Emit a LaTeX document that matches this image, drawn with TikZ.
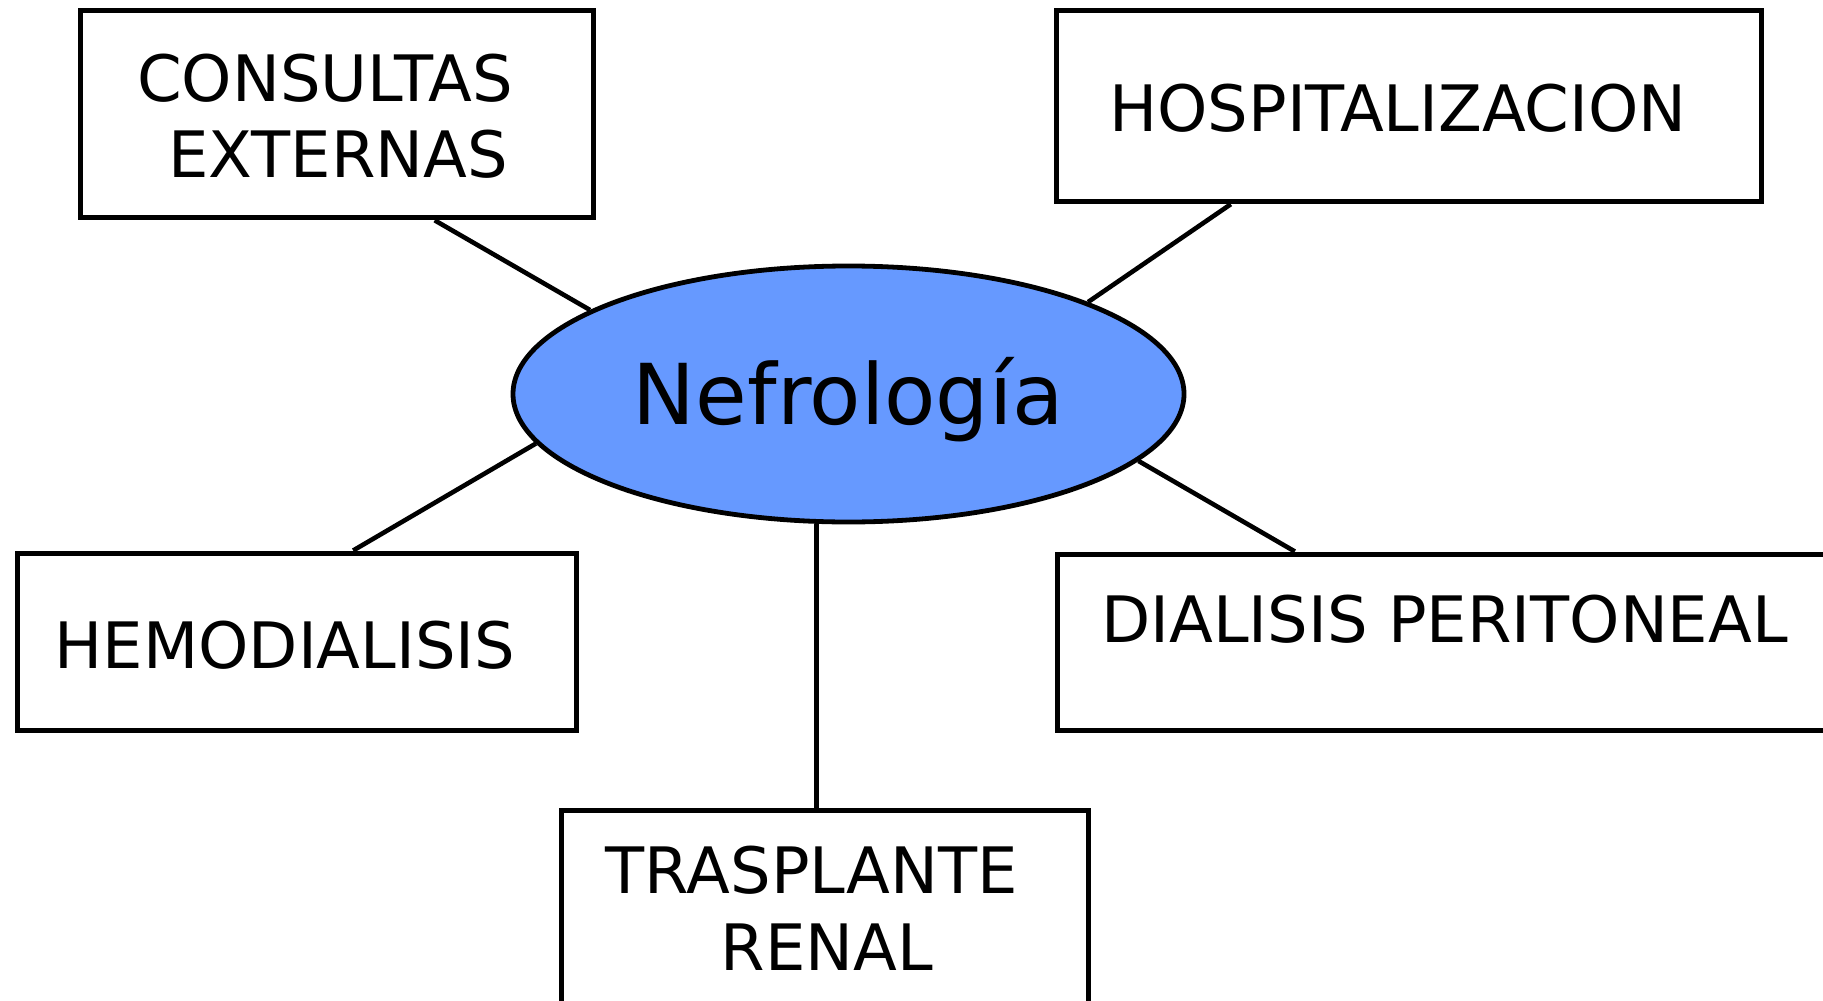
\documentclass[tikz,border=0pt]{standalone}
\usepackage{fontspec}
\setmainfont{DejaVu Sans}
\usetikzlibrary{shapes.geometric,calc}
\definecolor{nodeblue}{HTML}{6699FF}
\begin{document}
\begin{tikzpicture}[x=0.5pt,y=-0.5pt,
  box/.style={draw,line width=2.5pt,rectangle,inner sep=0pt,fill=white},
  lbl/.style={inner sep=0pt,anchor=base,font=\fontsize{32pt}{38pt}\selectfont},
  link/.style={line width=2.3pt},
  hub/.style={ellipse,draw,line width=2.4pt,fill=nodeblue,inner sep=0pt,
    font=\fontsize{42pt}{50pt}\selectfont,text height=39.9pt,text depth=9.9pt},
]
\useasboundingbox (0,0) rectangle (1823,1000);
\clip (0,0) rectangle (1823,1000);

% central topic
\node[hub,minimum width=335.5pt,minimum height=128pt] (nef) at (848.5,394) {Nefrología};

% surrounding boxes
\node[box,minimum width=256.5pt,minimum height=103.5pt] (cons) at (336.5,114.3) {};
\node[box,minimum width=352.75pt,minimum height=95.5pt] (hosp) at (1408.75,106.2) {};
\node[box,minimum width=279.5pt,minimum height=88.5pt] (hemo) at (296.5,641.5) {};
\node[box,minimum width=421.25pt,minimum height=88pt] (dial) at (1478.75,642) {};
\node[box,minimum width=263.8pt,minimum height=115pt] (trasp) at (824.8,925) {};

% box labels
\node[lbl] (consA) at (325,101.7) {CONSULTAS};
\node[lbl] (consB) at (338,178) {EXTERNAS};
\node[lbl] (hospA) at (1398,131.7) {HOSPITALIZACION};
\node[lbl] (hemoA) at (285,668.3) {HEMODIALISIS};
\node[lbl] (dialA) at (1444.5,642.3) {DIALISIS PERITONEAL};
\node[lbl] (traspA) at (812,893.3) {TRASPLANTE};
\node[lbl] (traspB) at (827,970) {RENAL};

% connectors
\draw[link] ($(cons.south west)!0.6895!(cons.south east)$) -- (nef.162.4);
\draw[link] ($(hosp.south west)!0.2495!(hosp.south east)$) -- (nef.21.9);
\draw[link] ($(hemo.north west)!0.6005!(hemo.north east)$) -- (nef.189.25);
\draw[link] ($(dial.north west)!0.283!(dial.north east)$) -- (nef.347.25);
\coordinate (tt) at ($(trasp.north west)!0.4846!(trasp.north east)$);
\draw[link] (tt) -- (tt |- nef.south);
\end{tikzpicture}
\end{document}
